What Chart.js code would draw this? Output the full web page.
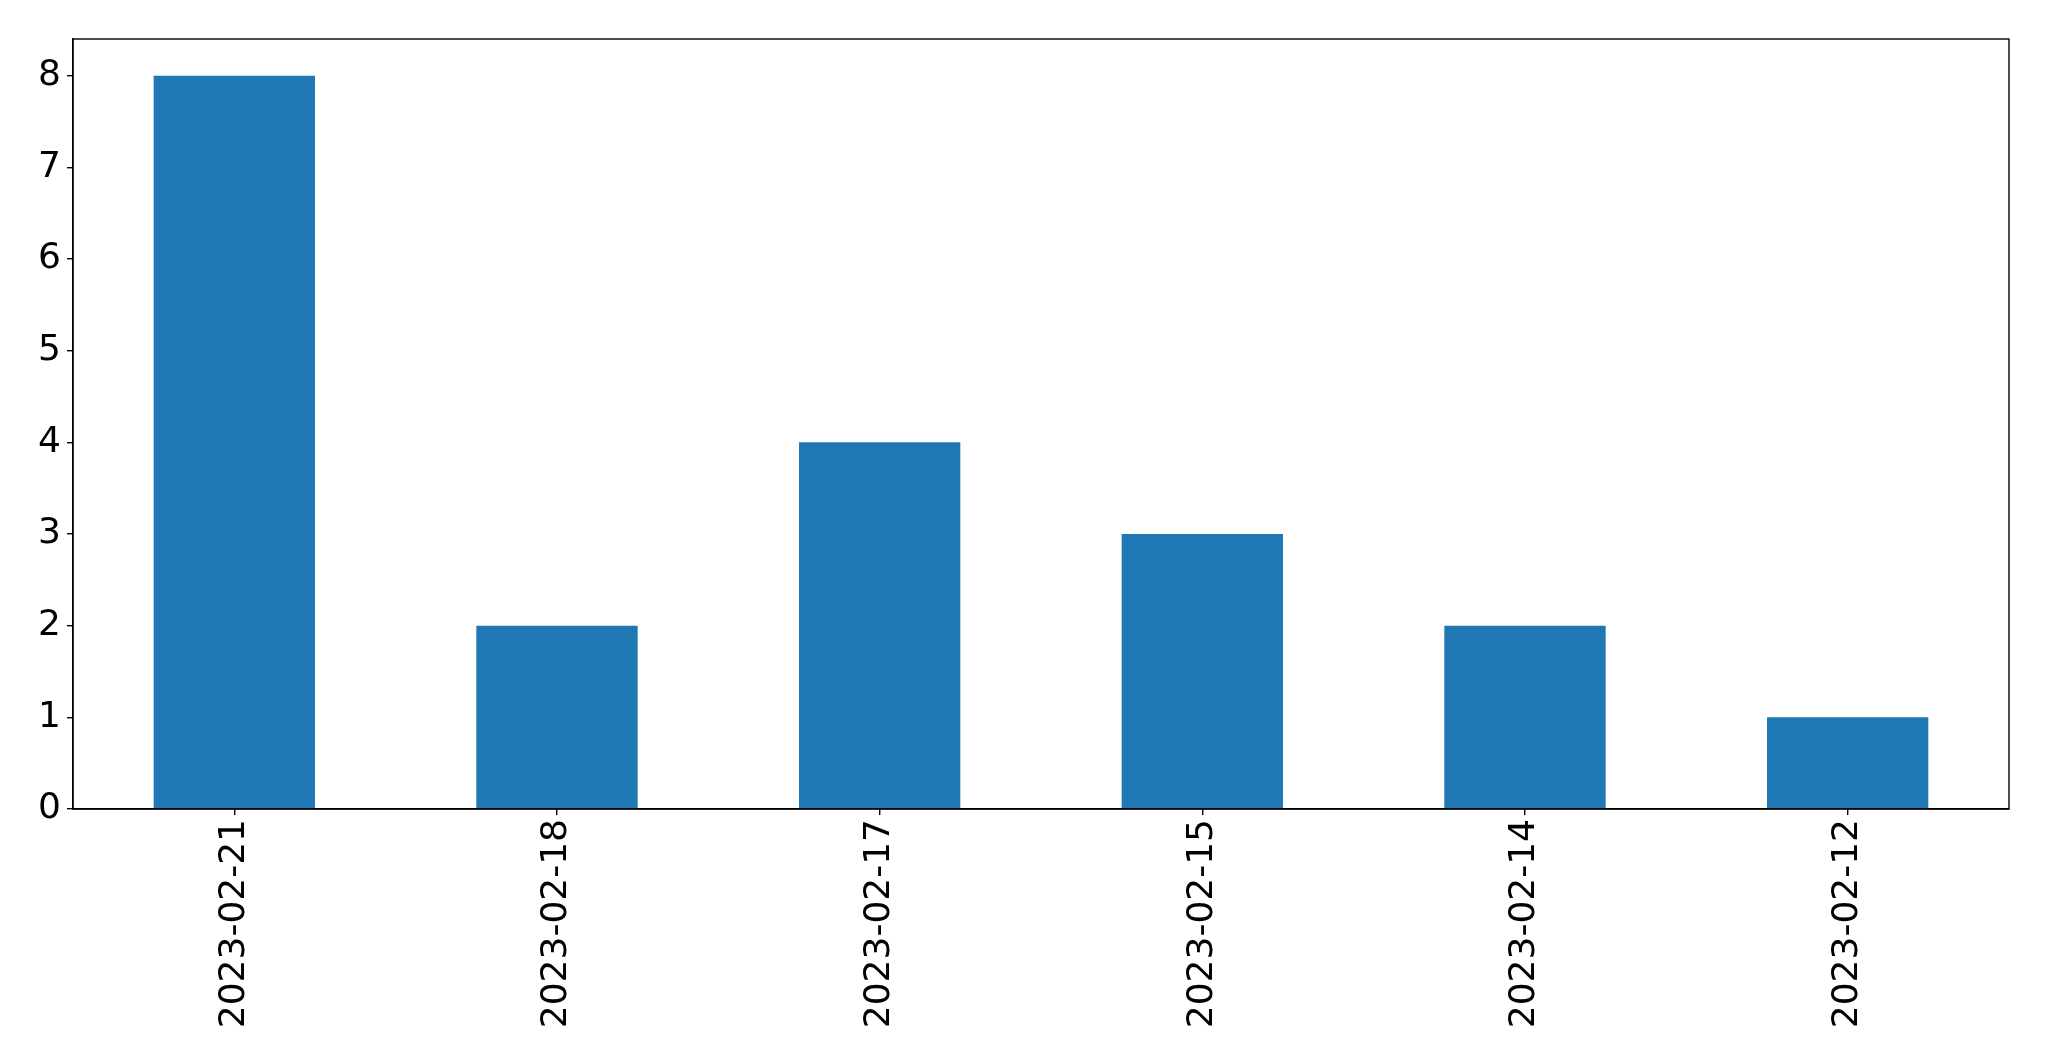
<!DOCTYPE html>
<html>
<head>
<meta charset="utf-8">
<script src="https://cdn.jsdelivr.net/npm/chart.js@4.4.0/dist/chart.umd.min.js"></script>
<style>
  html, body { margin: 0; padding: 0; background: #fff; }
  #wrap { width: 2049px; height: 1061px; }
</style>
</head>
<body>
<div id="wrap"><canvas id="myChart" width="2049" height="1061"></canvas></div>
<script>
// Datos
const fechas = ['2023-02-21', '2023-02-18', '2023-02-17', '2023-02-15', '2023-02-14', '2023-02-12'];
const cantidades = [8, 2, 4, 3, 2, 1];
const ticksY = [0, 1, 2, 3, 4, 5, 6, 7, 8];

// marco completo alrededor del area del grafico
const marco = {
    id: 'marco',
    afterDraw(chart) {
        const {ctx, chartArea: a} = chart;
        ctx.save();
        ctx.strokeStyle = '#000';
        ctx.lineWidth = 1.4;
        ctx.strokeRect(a.left, a.top, a.right - a.left, a.bottom - a.top);
        ctx.restore();
    }
};

const ctx = document.getElementById('myChart');

new Chart(ctx, {
    type: 'bar',
    data: {
        labels: fechas,
        datasets: [{
            data: cantidades,
            backgroundColor: '#1f77b4',
            borderWidth: 0,
            categoryPercentage: 1.0,
            barPercentage: 0.5
        }]
    },
    options: {
        responsive: false,
        animation: false,
        layout: { padding: { left: 0, top: 39, right: 40, bottom: 0 } },
        plugins: {
            legend: { display: false },
            tooltip: { enabled: false }
        },
        scales: {
            x: {
                offset: true,
                grid: { display: true, offset: false, drawOnChartArea: false, tickLength: 6, color: '#000', lineWidth: 1.4 },
                border: { color: '#000', width: 1.4 },
                ticks: {
                    color: '#000',
                    font: { family: 'DejaVu Sans', size: 36 },
                    minRotation: 90,
                    maxRotation: 90,
                    padding: 4,
                    autoSkip: false
                },
                afterFit(scale) { scale.height = 252; }
            },
            y: {
                min: 0,
                max: 8.4,
                afterBuildTicks(scale) { scale.ticks = ticksY.map(v => ({ value: v })); },
                grid: { display: true, drawOnChartArea: false, tickLength: 6, color: '#000', lineWidth: 1.4 },
                border: { color: '#000', width: 1.4 },
                ticks: {
                    color: '#000',
                    font: { family: 'DejaVu Sans', size: 36 },
                    padding: 6
                },
                afterFit(scale) { scale.width = 73; }
            }
        }
    },
    plugins: [marco]
});
</script>
</body>
</html>
